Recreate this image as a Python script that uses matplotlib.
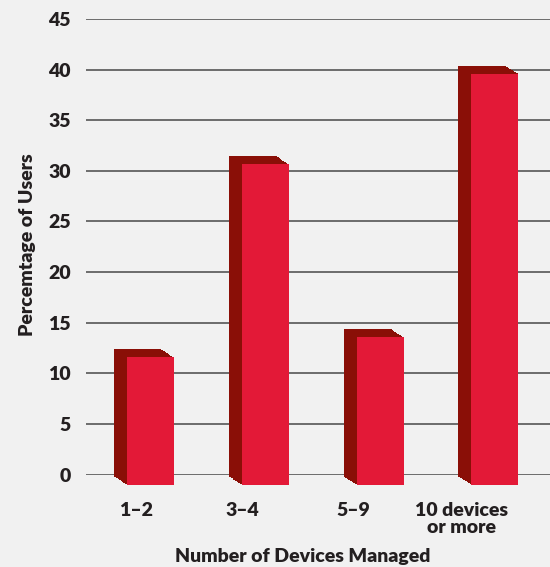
import matplotlib
matplotlib.use("Agg")
import matplotlib.pyplot as plt
import matplotlib.transforms as mtransforms
import numpy as np

plt.rcParams['font.family'] = ['Lato', 'DejaVu Sans']

categories = ["1–2", "3–4", "5–9", "10 devices\nor more"]
percent_users = [12.4, 31.5, 14.4, 40.4]
y_ticks = [0, 5, 10, 15, 20, 25, 30, 35, 40, 45]

front_red = "#e31937"
side_red = "#8a0f07"
bg = "#f1f1f1"
text_col = "#231f20"

fig = plt.figure(figsize=(5.5, 5.67), dpi=100, facecolor=bg)
ax = fig.add_axes([86 / 550, (567 - 474.5) / 567, 464 / 550, 455.5 / 567])
ax.set_facecolor(bg)

x = np.arange(len(categories)) * 1.0
bar_w = 0.41
base = -0.2
heights = np.array(percent_users) - base
dx, dy = 13 / 100, -8.5 / 100   # depth offset in inches

# extruded dark side, built from shifted copies of the back face
steps = 14
for k in range(steps + 1):
    off = mtransforms.ScaledTranslation(dx * k / steps, dy * k / steps, fig.dpi_scale_trans)
    ax.bar(x, heights, width=bar_w, bottom=base, align='edge', color=side_red,
           linewidth=0, transform=ax.transData + off, clip_on=False, zorder=3)

# front face
off = mtransforms.ScaledTranslation(dx, dy, fig.dpi_scale_trans)
ax.bar(x, heights, width=bar_w, bottom=base, align='edge', color=front_red,
       linewidth=0, transform=ax.transData + off, clip_on=False, zorder=4)

ax.set_ylim(0, 45)
ax.set_xlim(-0.244, 3.798)
ax.set_yticks(y_ticks)
ax.yaxis.grid(True, color="#555555", linewidth=1.2)
ax.set_axisbelow(True)
for s in ax.spines.values():
    s.set_visible(False)

fs = 14
tick_pos = [0.19, 1.12, 2.08, 3.03]
ax.set_xticks(tick_pos)
ax.set_xticklabels(categories, fontsize=fs, fontweight='heavy', color=text_col,
                   linespacing=0.95)
ax.tick_params(axis='x', length=0, pad=20)
ax.tick_params(axis='y', length=0, pad=11, labelsize=fs, labelcolor=text_col)
for lab in ax.get_yticklabels():
    lab.set_fontweight('heavy')

ax.set_xlabel("Number of Devices Managed", fontsize=fs, fontweight='heavy', color=text_col)
ax.xaxis.set_label_coords(0.4666, -0.161)
ax.set_ylabel("Percemtage of Users", fontsize=fs, fontweight='heavy', color=text_col)
ax.yaxis.set_label_coords(-0.108, 0.505)

fig.savefig("out.png", dpi=100, facecolor=bg)
